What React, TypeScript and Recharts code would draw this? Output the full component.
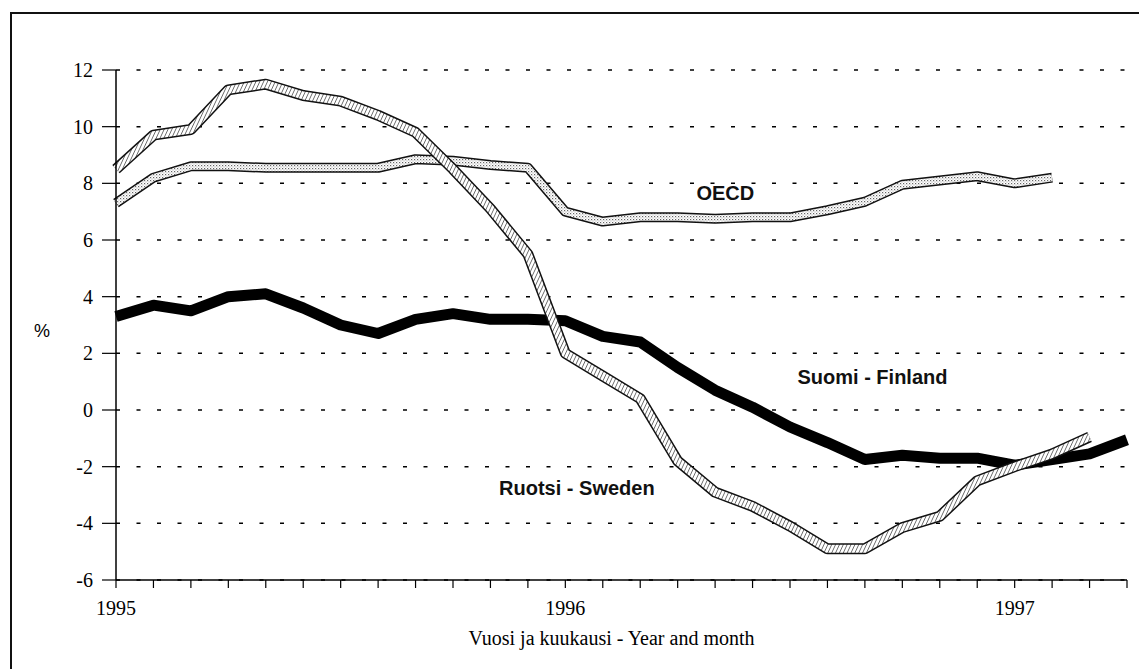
import React from 'react';
import { LineChart, Line, XAxis, YAxis, CartesianGrid, ReferenceDot, Label } from 'recharts';

// month index from Jan 1995
const months = [0, 1, 2, 3, 4, 5, 6, 7, 8, 9, 10, 11, 12, 13, 14, 15, 16, 17, 18, 19, 20, 21, 22, 23, 24, 25, 26, 27];
const yearLabels = ['1995', '1996', '1997'];
const yTicks = [-6, -4, -2, 0, 2, 4, 6, 8, 10, 12];

const finland = [3.3, 3.7, 3.5, 4.0, 4.1, 3.6, 3.0, 2.7, 3.2, 3.4, 3.2, 3.2, 3.15, 2.6, 2.4, 1.5, 0.7, 0.1, -0.6, -1.15, -1.75, -1.6, -1.7, -1.7, -1.95, -1.75, -1.55, -1.05];
const sweden = [8.5, 9.7, 9.9, 11.3, 11.5, 11.1, 10.9, 10.4, 9.8, 8.5, 7.1, 5.5, 2.0, 1.2, 0.4, -1.8, -2.9, -3.4, -4.1, -4.9, -4.9, -4.15, -3.75, -2.5, -2.0, -1.55, -0.95];
const oecd = [7.3, 8.2, 8.6, 8.6, 8.55, 8.55, 8.55, 8.55, 8.85, 8.8, 8.65, 8.55, 7.0, 6.65, 6.8, 6.8, 6.75, 6.8, 6.8, 7.05, 7.35, 7.95, 8.1, 8.25, 8.0, 8.2];

const data = months.map((m, i) => ({
    m,
    finland: finland[i] ?? null,
    sweden: sweden[i] ?? null,
    oecd: oecd[i] ?? null,
}));

const serif = "'Liberation Serif', 'Times New Roman', serif";
const sans = "'Liberation Sans', Arial, sans-serif";

const XTick = ({ x, y, payload }: any) => {
    const m = payload.value;
    if (m % 12 !== 0) return null;
    return (
        <text x={x} y={y + 27} textAnchor="middle" fontFamily={serif} fontSize={20} fill="#000">
            {yearLabels[m / 12]}
        </text>
    );
};

const YTick = ({ x, y, payload }: any) => (
    <text x={x} y={y} dy={7} textAnchor="end" fontFamily={serif} fontSize={20} fill="#000">
        {payload.value}
    </text>
);

const textShape = (text: string) => (props: any) => (
    <text
        x={props.cx}
        y={props.cy}
        dominantBaseline="central"
        fontFamily={sans}
        fontWeight="bold"
        fontSize={20}
        fill="#111"
    >
        {text}
    </text>
);

export default function App() {
    return (
        <div style={{ position: 'absolute', left: 0, top: 0, width: 1139, height: 669, background: '#fff' }}>
            {/* frame */}
            <div
                style={{
                    position: 'absolute',
                    left: 10,
                    top: 12,
                    width: 1135,
                    height: 665,
                    borderTop: '2px solid #111',
                    borderLeft: '2px solid #111',
                }}
            />
            <LineChart
                width={1139}
                height={669}
                data={data}
                margin={{ top: 70, right: 12, bottom: 0, left: 0 }}
                style={{ position: 'absolute', left: 0, top: 0 }}
            >
                <defs>
                    <pattern id="stipple" width="3" height="3" patternUnits="userSpaceOnUse">
                        <rect width="3" height="3" fill="#fff" />
                        <rect x="0" y="0" width="1.2" height="1.2" fill="#666" />
                        <rect x="1.5" y="1.5" width="1" height="1" fill="#999" />
                    </pattern>
                    <pattern id="hatch" width="3.5" height="3.5" patternUnits="userSpaceOnUse" patternTransform="rotate(25)">
                        <rect width="3.5" height="3.5" fill="#fff" />
                        <line x1="0" y1="0" x2="0" y2="3.5" stroke="#222" strokeWidth="1.2" />
                    </pattern>
                </defs>
                <CartesianGrid vertical={false} stroke="#000" strokeWidth={1.5} strokeDasharray="4 16.5" />
                <XAxis
                    dataKey="m"
                    type="number"
                    domain={[0, 27]}
                    ticks={months}
                    interval={0}
                    height={89}
                    tickSize={8}
                    tickMargin={0}
                    axisLine={{ stroke: '#000', strokeWidth: 1.5 }}
                    tickLine={{ stroke: '#000', strokeWidth: 1.2 }}
                    tick={<XTick />}
                >
                    <Label
                        value="Vuosi ja kuukausi - Year and month"
                        position="insideBottom"
                        offset={24}
                        dx={-10}
                        fontSize={20}
                        fontFamily={serif}
                        fill="#000"
                    />
                </XAxis>
                <YAxis
                    type="number"
                    domain={[-6, 12]}
                    ticks={yTicks}
                    interval={0}
                    width={116}
                    tickSize={14}
                    tickMargin={9}
                    axisLine={{ stroke: '#000', strokeWidth: 1.5 }}
                    tickLine={{ stroke: '#000', strokeWidth: 1.2 }}
                    tick={<YTick />}
                >
                    <Label
                        value="%"
                        position="insideLeft"
                        offset={34}
                        dy={6}
                        fontSize={18}
                        fontFamily={sans}
                        fill="#000"
                    />
                </YAxis>

                {/* OECD: stippled band */}
                <Line dataKey="oecd" stroke="#111" strokeWidth={10} dot={false} activeDot={false} isAnimationActive={false} strokeLinejoin="round" />
                <Line dataKey="oecd" stroke="url(#stipple)" strokeWidth={7} dot={false} activeDot={false} isAnimationActive={false} strokeLinejoin="round" />

                {/* Finland: thick black */}
                <Line dataKey="finland" stroke="#000" strokeWidth={11} dot={false} activeDot={false} isAnimationActive={false} strokeLinejoin="round" />

                {/* Sweden: hatched band */}
                <Line dataKey="sweden" stroke="#111" strokeWidth={11} dot={false} activeDot={false} isAnimationActive={false} strokeLinejoin="round" />
                <Line dataKey="sweden" stroke="url(#hatch)" strokeWidth={8} dot={false} activeDot={false} isAnimationActive={false} strokeLinejoin="round" />

                <ReferenceDot x={15.5} y={7.65} r={1} shape={textShape('OECD')} />
                <ReferenceDot x={18.2} y={1.16} r={1} shape={textShape('Suomi - Finland')} />
                <ReferenceDot x={10.23} y={-2.75} r={1} shape={textShape('Ruotsi - Sweden')} />
            </LineChart>
        </div>
    );
}
